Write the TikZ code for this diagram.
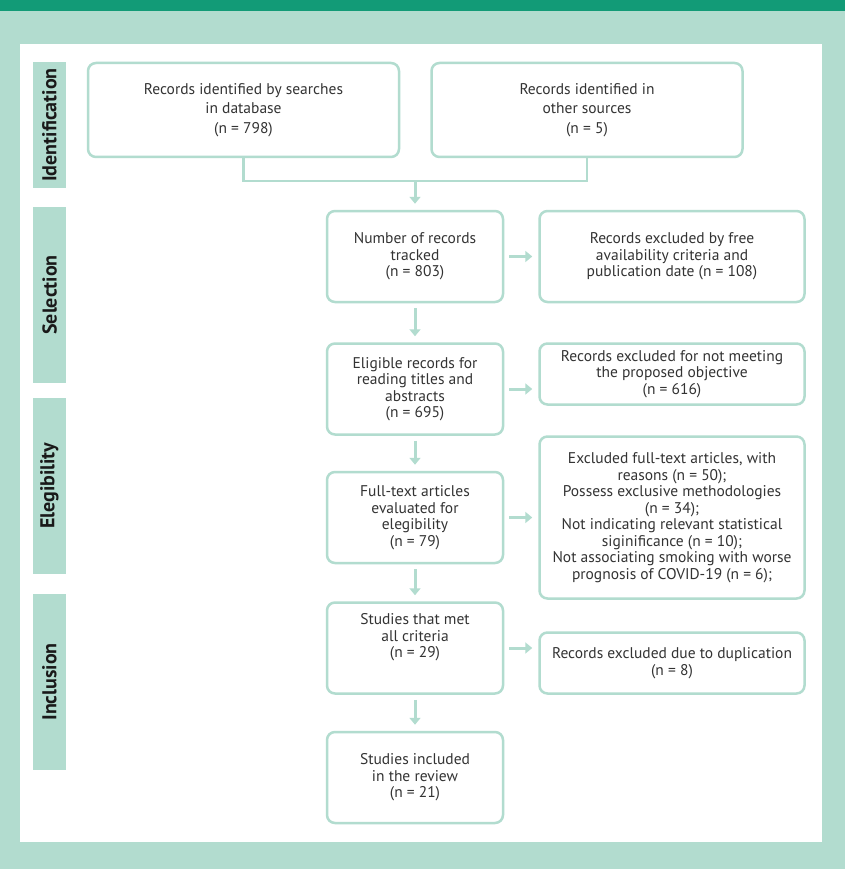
\documentclass[tikz,border=0pt]{standalone}
\usepackage{fontspec}
\setmainfont{PT Sans}
\usepackage{tikz}
\usetikzlibrary{arrows.meta}
\usetikzlibrary{positioning}
\definecolor{mint}{HTML}{B2DCCF}
\definecolor{deepgreen}{HTML}{129B77}
\definecolor{ink}{HTML}{333333}

\begin{document}
\begin{tikzpicture}[x=1pt,y=-1pt,
  box/.style={draw=mint,line width=2.5pt,rounded corners=8pt,fill=white,text=ink,
    align=center,inner sep=3pt,font=\fontsize{15.5}{16.5}\selectfont},
  main node/.style={box,minimum width=176pt,minimum height=91pt},
  side node/.style={box,minimum width=265pt},
  stage/.style={fill=mint,minimum height=33pt,rotate=90,text=black!90,
    font=\bfseries\fontsize{20}{22}\selectfont},
  link/.style={draw=mint,line width=2.5pt},
  flow/.style={draw=mint,line width=3pt,-{Triangle[length=7pt,width=11pt]},
    shorten <=5pt,shorten >=6pt}]

  \fill[mint] (0,0) rectangle (845,869);
  \fill[deepgreen] (0,0) rectangle (845,11);
  \fill[white] (20,44) rectangle (822,842);

  \node[stage,minimum width=126pt] (ident) at (49.5,125) {Identification};
  \node[stage,minimum width=176pt] (select) at (49.5,295) {Selection};
  \node[stage,minimum width=176pt] (elig) at (49.5,486) {Elegibility};
  \node[stage,minimum width=176pt] (incl) at (49.5,682) {Inclusion};

  \node[box,minimum width=311pt,minimum height=94pt,font=\fontsize{15.5}{19.5}\selectfont] (A) at (243.5,110)
    {Records identified by searches\\in database\\(n = 798)};
  \node[box,minimum width=311pt,minimum height=94pt,font=\fontsize{15.5}{19.5}\selectfont] (B) [right=30pt of A]
    {Records identified in\\other sources\\(n = 5)};

  \node[main node] (C) at (415,256.5) {Number of records\\tracked\\(n = 803)};
  \node[side node,minimum height=91pt] (D) [right=34pt of C]
    {Records excluded by free\\availability criteria and\\publication date (n = 108)};
  \node[main node] (E) [below=39pt of C]
    {Eligible records for\\reading titles and\\abstracts\\(n = 695)};
  \node[side node,minimum height=61pt] (F) [right=34pt of E.north east,anchor=north west]
    {Records excluded for not meeting\\the proposed objective\\(n = 616)};
  \node[main node] (G) [below=35pt of E]
    {Full-text articles\\evaluated for\\elegibility\\(n = 79)};
  \node[side node,minimum height=162pt] (H) [right=34pt of G]
    {Excluded full-text articles, with\\reasons (n = 50);\\Possess exclusive methodologies\\(n = 34);\\Not indicating relevant statistical\\siginificance (n = 10);\\Not associating smoking with worse\\prognosis of COVID-19 (n = 6);};
  \node[main node] (I) [below=37pt of G]
    {Studies that met\\all criteria\\(n = 29)\\[8pt]};
  \node[side node,minimum height=61pt] (J) [right=34pt of I.south east,anchor=south west]
    {Records excluded due to duplication\\(n = 8)};
  \node[main node] (K) [below=36pt of I]
    {Studies included\\in the review\\(n = 21)};

  \coordinate (join) at (415,181);
  \draw[link] (A.south) |- (join) -| (B.south);
  \draw[flow,shorten <=0pt] (join) -- (C.north);

  \path (C) edge[flow] (D)
    (C) edge[flow] (E)
    (E.east) edge[flow] (E.east -| F.west)
    (E) edge[flow] (G)
    (G) edge[flow] (H)
    (G) edge[flow] (I)
    (I.east) edge[flow] (I.east -| J.west)
    (I) edge[flow] (K);
\end{tikzpicture}
\end{document}
